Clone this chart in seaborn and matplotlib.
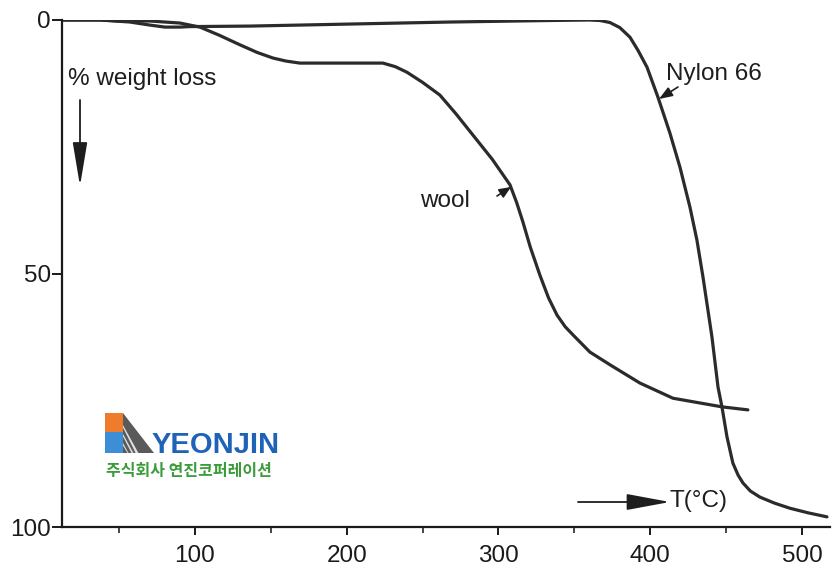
import numpy as np
import pandas as pd
import matplotlib
matplotlib.use("Agg")
import matplotlib.pyplot as plt
from matplotlib.patches import Rectangle, Polygon, FancyArrowPatch
import seaborn as sns

# ---- data ----
nylon_T = [12.4, 37.4, 57.2, 70.3, 80.2, 90.1, 96.7, 136, 202, 268, 334, 360, 367,
           373.5, 380, 386.7, 392, 397.9, 405.1, 413, 419.6, 426.2, 430.8, 434.8,
           440.7, 444.7, 447.3, 450.6, 454.5, 458, 461.1, 466, 472.3, 482, 492.1, 504, 516.5]
nylon_W = [0, 0, 0.4, 1.0, 1.4, 1.4, 1.3, 1.2, 0.8, 0.4, 0.1, 0.0, 0.1,
           0.5, 1.5, 3.4, 6.0, 9.3, 15.2, 22.3, 29.0, 36.9, 43.4, 50.7,
           62.5, 72.4, 76.3, 82.2, 87.4, 89.8, 91.3, 92.9, 94.1, 95.3, 96.3, 97.2, 98.0]

wool_T = [12.4, 37.4, 50.6, 70.3, 90.1, 103.3, 116, 129.7, 141, 151.4, 160, 169.2,
          223.9, 232, 239.7, 250, 261.4, 272, 283.2, 296, 307.6, 312, 316.1, 321, 327.3,
          333, 338.6, 344, 349.1, 360.3, 373.5, 393.2, 415, 447.3, 464.4]
wool_W = [0, 0, 0.2, 0.2, 0.6, 1.4, 3.0, 4.9, 6.4, 7.5, 8.1, 8.5,
          8.5, 9.2, 10.3, 12.3, 14.8, 18.5, 22.7, 27.5, 32.5, 36.0, 39.8, 44.8, 50.3,
          54.8, 58.2, 60.5, 62.1, 65.5, 68.0, 71.6, 74.6, 76.3, 76.9]

x_major = [100, 200, 300, 400, 500]
x_minor = [50, 150, 250, 350, 450]
y_ticks = [0, 50, 100]

W, H = 837, 574
LINE = "#2b2b2b"

sns.set_style("white")
plt.rcParams['font.family'] = ['Liberation Sans', 'DejaVu Sans']

df = pd.DataFrame({
    "T": nylon_T + wool_T,
    "W": nylon_W + wool_W,
    "s": ["Nylon 66"] * len(nylon_T) + ["wool"] * len(wool_T),
})

fig = plt.figure(figsize=(W / 100, H / 100), dpi=100)
fig.patch.set_facecolor("white")
ax = fig.add_axes([62 / W, 47 / H, (830 - 62) / W, (527 - 20) / H])

sns.lineplot(data=df, x="T", y="W", hue="s", units="s", estimator=None, sort=False,
             palette={"Nylon 66": LINE, "wool": LINE}, linewidth=2.3,
             legend=False, ax=ax)
for ln in ax.lines:
    ln.set_solid_joinstyle("round")
    ln.set_solid_capstyle("round")

ax.set_xlim(12.4, 518.5)
ax.set_ylim(100, 0)
ax.set_xlabel("")
ax.set_ylabel("")
for s in ["top", "right"]:
    ax.spines[s].set_visible(False)
for s in ["left", "bottom"]:
    ax.spines[s].set_color("#1a1a1a")
    ax.spines[s].set_linewidth(1.6)

ax.set_xticks(x_major)
ax.set_xticks(x_minor, minor=True)
ax.set_yticks(y_ticks)
ax.set_yticklabels([str(v) for v in y_ticks])
ax.tick_params(axis="x", which="major", direction="out", length=6, width=1.4,
               pad=7, labelsize=17.5, colors="#1a1a1a", bottom=True)
ax.tick_params(axis="x", which="minor", direction="out", length=4, width=1.2,
               bottom=True)
ax.tick_params(axis="y", which="major", direction="out", length=7, width=1.4,
               pad=1, labelsize=17.5, colors="#1a1a1a", left=True)
ax.grid(False)

def fp(x, y):
    return (x / W, 1 - y / H)

TXT = "#1e1e1e"
fig.text(*fp(68, 85), "% weight loss", fontsize=17.5, color=TXT, va="baseline", ha="left")
fig.text(*fp(666, 80), "Nylon 66", fontsize=17.5, color=TXT, va="baseline", ha="left")
fig.text(*fp(420, 207), "wool", fontsize=17.5, color=TXT, va="baseline", ha="left")
fig.text(*fp(670, 507), "T(°C)", fontsize=17.5, color=TXT, va="baseline", ha="left")

# arrows
def arrow(p0, p1, hl, hw, lw=1.3):
    a = FancyArrowPatch(fp(*p0), fp(*p1), transform=fig.transFigure,
                        arrowstyle=f"-|>,head_length={hl},head_width={hw}",
                        mutation_scale=1, color=TXT, linewidth=lw,
                        shrinkA=0, shrinkB=0)
    fig.add_artist(a)

arrow((80, 100), (80, 186), 27, 4.5)
arrow((578, 502), (670, 502), 27, 5)
arrow((497, 196), (511, 187), 7, 3, lw=1.2)
arrow((678, 87), (659, 99), 8, 3, lw=1.2)

# watermark logo
fig.add_artist(Rectangle(fp(105, 432), 18 / W, 19 / H, transform=fig.transFigure,
                         facecolor="#ef7b2c", edgecolor="none"))
fig.add_artist(Rectangle(fp(105, 453), 18 / W, 21 / H, transform=fig.transFigure,
                         facecolor="#3d8ed6", edgecolor="none"))
fig.add_artist(Polygon([fp(123, 413), fp(123, 453), fp(154, 453)], closed=True,
                       transform=fig.transFigure, facecolor="#5a5a5a", edgecolor="none"))
for k in range(3):
    y0 = 425 + 9 * k
    fig.add_artist(Polygon([fp(123, y0), fp(123, y0 + 2.5),
                            fp(123 + (453 - y0) * 0.45, 453), fp(123 + (453 - y0) * 0.55, 453)],
                           closed=True, transform=fig.transFigure,
                           facecolor="#e0e0e0", edgecolor="none"))
fig.text(*fp(152, 453), "YEONJIN", fontsize=21, fontweight="bold", color="#1f63b8",
         family=["Liberation Sans Narrow", "Liberation Sans", "DejaVu Sans"],
         va="baseline", ha="left")
fig.text(*fp(106, 476), "주식회사 연진코퍼레이션", fontsize=11.5, fontweight="bold",
         color="#3c9c3c", family=["Noto Sans CJK KR", "DejaVu Sans"],
         va="baseline", ha="left")

fig.savefig("out.png", dpi=100, facecolor="white")
